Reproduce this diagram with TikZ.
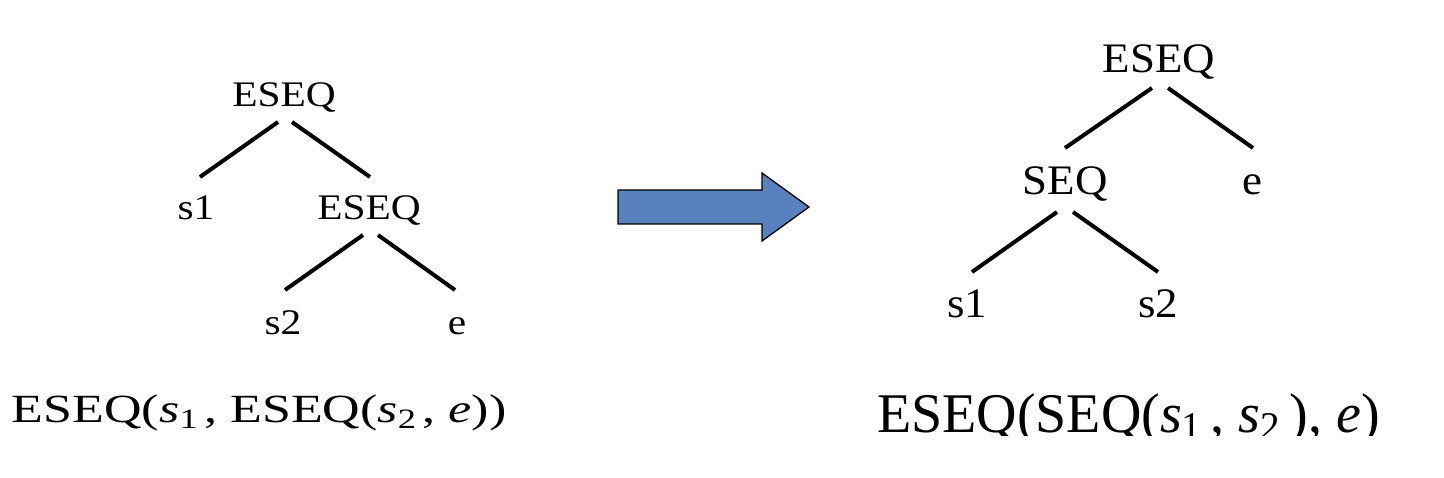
\documentclass[tikz,border=0pt]{standalone}
\usepackage{fontspec}
\usepackage{graphicx}
\setmainfont{Liberation Serif}
\newfontfamily\leftfam[FakeStretch=1.15]{Liberation Serif}
\newfontfamily\rightfam[FakeStretch=1.07]{Liberation Serif}
\newfontfamily\lformfam[FakeStretch=1.3]{Liberation Serif}
\newfontfamily\rformfam{Liberation Serif}
\newcommand{\lowsub}[1]{\raisebox{-0.3ex}{\scalebox{0.7}{#1}}}
\definecolor{arrowblue}{RGB}{89,129,189}
\tikzset{
  lbl/.style={inner sep=0pt, outer sep=0pt, anchor=base},
  lefttree/.style={lbl, font=\leftfam\fontsize{36}{40}\selectfont},
  righttree/.style={lbl, font=\rightfam\fontsize{42}{46}\selectfont},
  edge/.style={line width=4pt},
}
\begin{document}
\begin{tikzpicture}[x=1pt,y=-1pt]
\useasboundingbox (0,0) rectangle (1444,478);
% left tree
\node[lefttree] (ESEQa) at (284,107) {ESEQ};
\node[lefttree] (s1a) at (196,220) {s1};
\node[lefttree] (ESEQb) at (369,220) {ESEQ};
\node[lefttree] (s2a) at (283,335) {s2};
\node[lefttree] (ea) at (457,335) {e};
\draw[edge] ([shift={(-6,15)}]ESEQa.base) -- ([shift={(4,-43)}]s1a.base);
\draw[edge] ([shift={(8,15)}]ESEQa.base) -- ([shift={(1,-43)}]ESEQb.base);
\draw[edge] ([shift={(-6,15)}]ESEQb.base) -- ([shift={(2,-45)}]s2a.base);
\draw[edge] ([shift={(9,15)}]ESEQb.base) -- ([shift={(-2,-45)}]ea.base);
% left formula
\begin{scope}
\clip (0,380) rectangle (600,431);
\node[lbl, anchor=base west, font=\lformfam\fontsize{40}{44}\selectfont] (lform) at (12,423)
  {ESEQ({\itshape s}\lowsub{1}\,, ESEQ({\itshape s}\lowsub{2}\,, {\itshape e}))};
\end{scope}
% arrow
\draw[fill=arrowblue, draw=black, line width=1.3pt, line join=miter]
  (618,190) -- (762,190) -- (762,173) -- (809,207) -- (762,241) -- (762,224) -- (618,224) -- cycle;
% right tree
\node[righttree] (ESEQc) at (1159,73) {ESEQ};
\node[righttree] (SEQc) at (1065,195) {SEQ};
\node[righttree] (ec) at (1252,195) {e};
\node[righttree] (s1c) at (967,318) {s1};
\node[righttree] (s2c) at (1158,318) {s2};
\draw[edge] ([shift={(-7,15)}]ESEQc.base) -- ([shift={(0,-47)}]SEQc.base);
\draw[edge] ([shift={(9,15)}]ESEQc.base) -- ([shift={(1,-47)}]ec.base);
\draw[edge] ([shift={(-8,17)}]SEQc.base) -- ([shift={(5,-46)}]s1c.base);
\draw[edge] ([shift={(8,17)}]SEQc.base) -- ([shift={(0,-46)}]s2c.base);
% right formula
\begin{scope}
\clip (860,380) rectangle (1444,435);
\node[lbl, anchor=base west, font=\rformfam\fontsize{56}{60}\selectfont] (rform) at (877,432)
  {ESEQ(SEQ({\itshape s}\lowsub{1}\,, {\itshape s}\lowsub{2}\,), {\itshape e})};
\end{scope}
\end{tikzpicture}
\end{document}
